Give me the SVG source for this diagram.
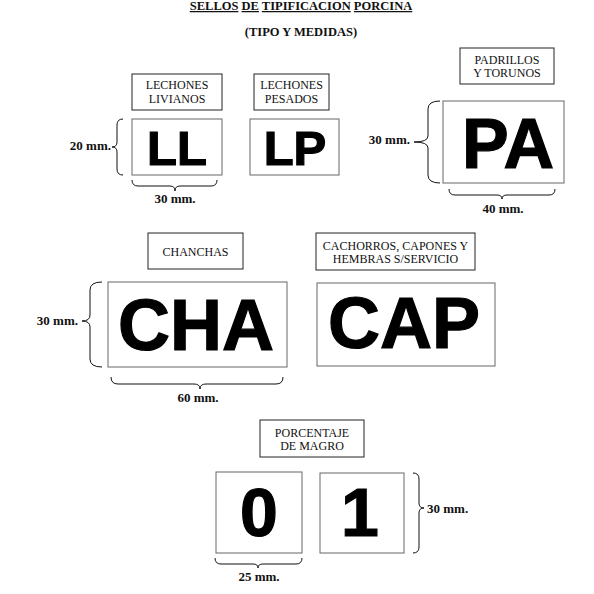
<svg xmlns="http://www.w3.org/2000/svg" width="594" height="594" viewBox="0 0 594 594">
<style>
.bg{fill:#fff}
.lbl{fill:#fff;stroke:#222;stroke-width:1}
.stamp{fill:#fff;stroke:#666;stroke-width:1}
.lt{font-family:"Liberation Serif",serif;font-size:12px;fill:#111;text-anchor:middle}
.st{font-family:"Liberation Sans",Arial,sans-serif;font-weight:bold;fill:#000;stroke:#000;stroke-width:1.2;text-anchor:middle}
.mm{font-family:"Liberation Serif",serif;font-size:13px;font-weight:bold;fill:#111}
.tt{font-family:"Liberation Serif",serif;font-size:12.5px;font-weight:bold;fill:#111;text-anchor:middle}
.u{text-decoration:underline}
.br{fill:none;stroke:#111;stroke-width:1}
</style>
<rect class="bg" x="0" y="0" width="594" height="594"/>
<g id="title">
<text class="tt" x="301" y="10"><tspan class="u">SELLOS</tspan> <tspan class="u">DE</tspan> <tspan class="u">TIPIFICACION</tspan> <tspan class="u">PORCINA</tspan></text>
<text class="tt" x="301" y="36">(TIPO Y MEDIDAS)</text>
</g>
<g id="ll">
<rect class="lbl" x="132" y="74" width="90" height="36"/>
<text class="lt" x="177" y="89">LECHONES</text>
<text class="lt" x="177" y="103">LIVIANOS</text>
<rect class="stamp" x="132" y="119" width="90" height="56"/>
<text class="st" x="177" y="165" font-size="49">LL</text>
<text class="mm" x="111" y="150" text-anchor="end">20 mm.</text>
<text class="mm" x="175" y="203" text-anchor="middle">30 mm.</text>
</g>
<g id="lp">
<rect class="lbl" x="254" y="74" width="75" height="36"/>
<text class="lt" x="291.5" y="89">LECHONES</text>
<text class="lt" x="291.5" y="103">PESADOS</text>
<rect class="stamp" x="250" y="119" width="89" height="56"/>
<text class="st" x="295" y="165" font-size="49">LP</text>
</g>
<g id="pa">
<rect class="lbl" x="460" y="48" width="94" height="36"/>
<text class="lt" x="507" y="64">PADRILLOS</text>
<text class="lt" x="507" y="77">Y TORUNOS</text>
<rect class="stamp" x="443" y="101" width="121" height="82"/>
<text class="st" x="508" y="168" font-size="70">PA</text>
<text class="mm" x="410" y="144" text-anchor="end">30 mm.</text>
<text class="mm" x="503" y="213" text-anchor="middle">40 mm.</text>
</g>
<g id="cha">
<rect class="lbl" x="148" y="233" width="95" height="36"/>
<text class="lt" x="195.5" y="256">CHANCHAS</text>
<rect class="stamp" x="108" y="282" width="179" height="85"/>
<text class="st" x="196" y="350" font-size="72">CHA</text>
<text class="mm" x="78" y="325" text-anchor="end">30 mm.</text>
<text class="mm" x="198" y="402" text-anchor="middle">60 mm.</text>
</g>
<g id="cap">
<rect class="lbl" x="316" y="233" width="159" height="37"/>
<text class="lt" x="395.5" y="250">CACHORROS, CAPONES Y</text>
<text class="lt" x="395.5" y="263">HEMBRAS S/SERVICIO</text>
<rect class="stamp" x="317" y="283" width="178" height="83"/>
<text class="st" x="404" y="348" font-size="72">CAP</text>
</g>
<g id="magro">
<rect class="lbl" x="260" y="420" width="104" height="37"/>
<text class="lt" x="312" y="437">PORCENTAJE</text>
<text class="lt" x="312" y="450">DE MAGRO</text>
<rect class="stamp" x="216" y="472" width="86" height="81"/>
<text class="st" x="259" y="536" font-size="68">0</text>
<rect class="stamp" x="320" y="473" width="84" height="80"/>
<text class="st" x="360" y="536" font-size="68">1</text>
<text class="mm" x="427" y="513">30 mm.</text>
<text class="mm" x="259" y="581" text-anchor="middle">25 mm.</text>
</g>
<g id="connectors">
<path class="br" d="M123,119 Q117,119 117,125 L117,142 Q117,147 112,147 Q117,147 117,152 L117,169 Q117,175 123,175"/>
<path class="br" d="M132,180 Q132,186 138,186 L170,186 Q175,186 175,191 Q175,186 180,186 L211,186 Q217,186 217,180"/>
<path class="br" d="M440,101 Q428,101 428,109 L428,136 Q428,142 414,142 Q428,142 428,148 L428,175 Q428,183 440,183"/>
<path class="br" d="M449,189 Q449,195 455,195 L497,195 Q502,195 502,199 Q502,195 507,195 L549,195 Q555,195 555,189"/>
<path class="br" d="M102,282 Q90,282 90,290 L90,315 Q90,321 82,321 Q90,321 90,327 L90,359 Q90,367 102,367"/>
<path class="br" d="M111,377 Q111,384 118,384 L194,384 Q200,384 200,389 Q200,384 206,384 L276,384 Q283,384 283,377"/>
<path class="br" d="M413,473 Q419,473 419,479 L419,503 Q419,508 424,508 Q419,508 419,513 L419,547 Q419,553 413,553"/>
<path class="br" d="M215,558 Q215,564 221,564 L253,564 Q258,564 258,568 Q258,564 263,564 L296,564 Q302,564 302,558"/>
</g>
</svg>
